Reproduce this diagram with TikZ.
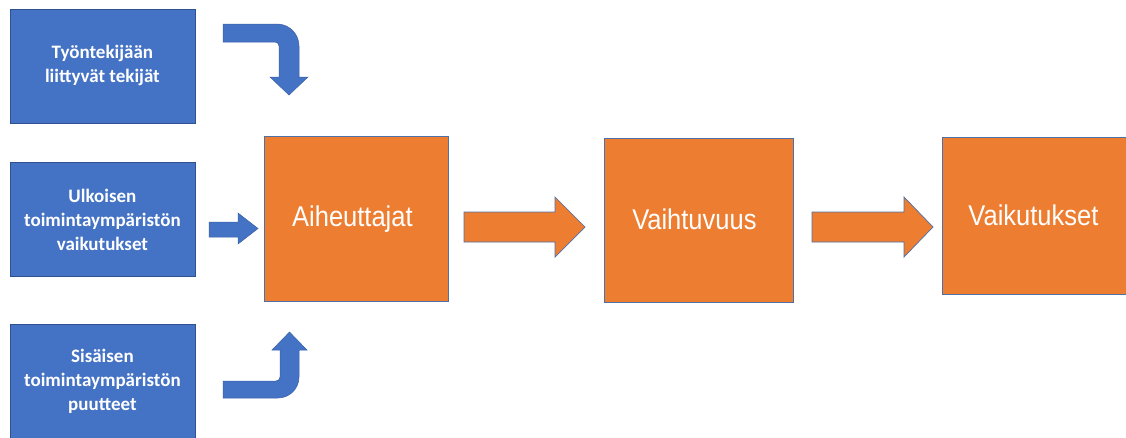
\documentclass[tikz,border=0pt]{standalone}
\usepackage{fontspec}
\setmainfont{Liberation Sans}
\newfontfamily\boxfont{Carlito}
\definecolor{bluefill}{HTML}{4472C4}
\definecolor{blueedge}{HTML}{2F528F}
\definecolor{orangefill}{HTML}{ED7D31}
\definecolor{orangeedge}{HTML}{4F6FA8}
\newcommand{\stagelabel}[1]{\raisebox{2pt}{\scalebox{1}[1.12]{#1}}\hspace*{8pt}}
\tikzset{
  factor/.style={draw=blueedge, line width=0.8pt, fill=bluefill, text=white,
    align=center, inner sep=0pt, anchor=north west,
    font=\boxfont\bfseries\fontsize{19}{24}\selectfont},
  stage/.style={draw=orangeedge, line width=0.8pt, fill=orangefill, text=white,
    inner sep=0pt, anchor=north west,
    font=\fontsize{25.5}{30}\selectfont},
  bluearrow/.style={fill=bluefill, draw=bluefill!85!black, line width=0.5pt},
  orangearrow/.style={fill=orangefill, draw=orangeedge, line width=0.7pt},
}
\begin{document}
\begin{tikzpicture}[x=1pt, y=-1pt]
\useasboundingbox[fill=white] (0,0) rectangle (1126,437);

% input factors
\node[factor, minimum width=185pt, minimum height=114pt] (f1) at (9.5,8.5)
  {Työntekijään\\liittyvät tekijät};
\node[factor, minimum width=185pt, minimum height=114pt] (f2) at (9.5,162)
  {Ulkoisen\\toimintaympäristön\\vaikutukset};
\node[factor, minimum width=185pt, minimum height=114pt] (f3) at (9.5,324)
  {Sisäisen\\toimintaympäristön\\puutteet};

% process stages
\node[stage, minimum width=184pt, minimum height=165pt] (s1) at (264,136)
  {\stagelabel{Aiheuttajat}};
\node[stage, minimum width=189pt, minimum height=164pt] (s2) at (603.5,138)
  {\stagelabel{Vaihtuvuus}};
\node[stage, minimum width=190pt, minimum height=157pt] (s3) at (942,137)
  {\stagelabel{Vaikutukset}};

% bent arrow from the top factor down towards the first stage
\path[bluearrow]
  (223,24) -- (277,24) .. controls (289.2,24) and (299,33.8) .. (299,46)
  -- (299,77) -- (308,77) -- (289,95) -- (270,77) -- (279,77)
  -- (279,46) .. controls (279,43.8) and (277.2,42) .. (275,42)
  -- (223,42) -- cycle;

% straight arrow from the middle factor
\path[bluearrow]
  (209,222) -- (238,222) -- (238,213) -- (258,228.5) -- (238,244)
  -- (238,237) -- (209,237) -- cycle;

% bent arrow from the bottom factor up towards the first stage
\path[bluearrow]
  (223,381) -- (276,381) .. controls (278.2,381) and (280,379.2) .. (280,377)
  -- (280,350) -- (272,350) -- (289.5,332) -- (307,350) -- (299,350)
  -- (299,377) .. controls (299,388.6) and (289.6,398) .. (278,398)
  -- (223,398) -- cycle;

% block arrows between the stages
\path[orangearrow]
  (464,212) -- (555,212) -- (555,197) -- (585,227) -- (555,257)
  -- (555,242) -- (464,242) -- cycle;
\path[orangearrow]
  (812,212) -- (904,212) -- (904,197) -- (933,227) -- (904,257)
  -- (904,242) -- (812,242) -- cycle;
\end{tikzpicture}
\end{document}
